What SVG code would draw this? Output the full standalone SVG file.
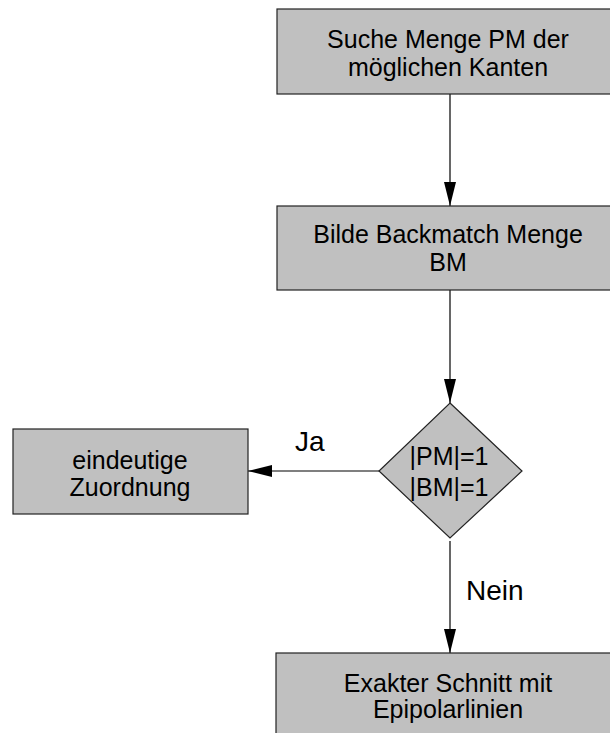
<svg xmlns="http://www.w3.org/2000/svg" width="610" height="733" viewBox="0 0 610 733">
<defs>
<marker id="arr" markerUnits="userSpaceOnUse" markerWidth="26" markerHeight="14" refX="24" refY="6" orient="auto">
<path d="M0,0 L24,6 L0,12 Z" fill="#000"/>
</marker>
<style>
.box{fill:#c0c0c0;stroke:#222;stroke-width:1.2}
.t{font-family:"Liberation Sans",Arial,sans-serif;font-size:25px;fill:#000;text-anchor:middle}
.lbl{font-family:"Liberation Sans",Arial,sans-serif;font-size:28px;fill:#000}
.c{stroke:#000;stroke-width:1.2;fill:none;marker-end:url(#arr)}
</style>
</defs>
<rect width="610" height="733" fill="#fff"/>
<g id="connectors">
<line class="c" x1="450" y1="94" x2="450" y2="206"/>
<line class="c" x1="450" y1="290" x2="450" y2="403"/>
<line class="c" x1="379" y1="471" x2="248" y2="471"/>
<line class="c" x1="450" y1="541" x2="450" y2="653"/>
<text class="lbl" x="295" y="451">Ja</text>
<text class="lbl" x="466" y="600">Nein</text>
</g>
<g id="n1">
<rect class="box" x="277" y="9" width="346" height="85"/>
<text class="t" x="448" y="48">Suche Menge PM der</text>
<text class="t" x="448" y="76">möglichen Kanten</text>
</g>
<g id="n2">
<rect class="box" x="277" y="206" width="346" height="84"/>
<text class="t" x="448" y="243">Bilde Backmatch Menge</text>
<text class="t" x="448" y="271">BM</text>
</g>
<g id="n3">
<polygon class="box" points="450,403 522,471 450,538 379,471"/>
<text class="t" x="449" y="465" font-size="24">|PM|=1</text>
<text class="t" x="449" y="496" font-size="24">|BM|=1</text>
</g>
<g id="n4">
<rect class="box" x="13" y="429" width="235" height="85"/>
<text class="t" x="130" y="469">eindeutige</text>
<text class="t" x="130" y="496">Zuordnung</text>
</g>
<g id="n5">
<rect class="box" x="276" y="653" width="347" height="85"/>
<text class="t" x="448" y="692">Exakter Schnitt mit</text>
<text class="t" x="448" y="718">Epipolarlinien</text>
</g>
</svg>
